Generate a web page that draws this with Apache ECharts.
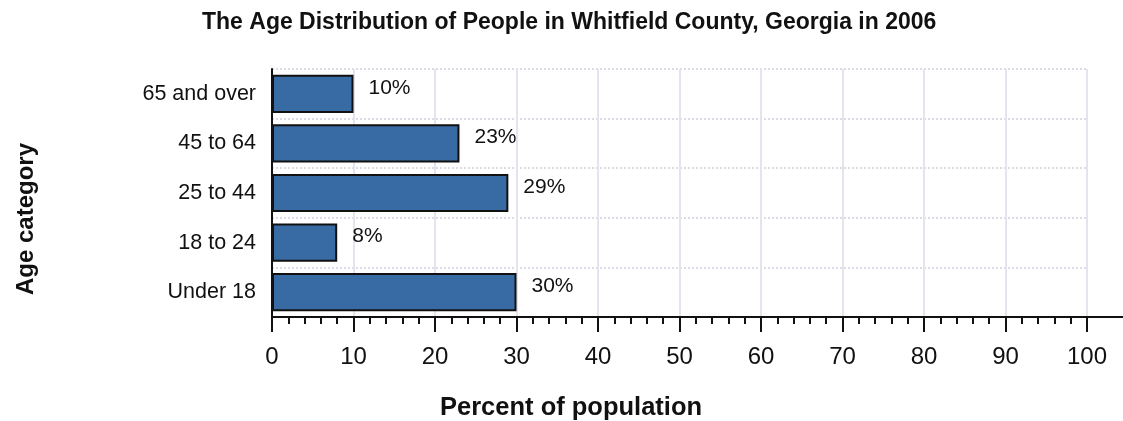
<!DOCTYPE html>
<html>
<head>
<meta charset="utf-8">
<script src="https://cdn.jsdelivr.net/npm/echarts@6/dist/echarts.min.js"></script>
<style>
  html, body { margin: 0; padding: 0; background: #ffffff; }
  #chart { width: 1123px; height: 421px; }
</style>
</head>
<body>
<div id="chart"></div>
<script>
// Age groups, listed bottom to top as they appear on the vertical axis
const ageCategories = ['Under 18', '18 to 24', '25 to 44', '45 to 64', '65 and over'];
// Share of the county population in each group (%)
const percentValues = [30, 8, 29, 23, 10];
// Percent scale ticks
const xMin = 0;
const xMax = 100;
const xStep = 10;

const FONT = '"Liberation Sans", Arial, Helvetica, sans-serif';

const chart = echarts.init(document.getElementById('chart'), null, { renderer: 'canvas' });

const option = {
  backgroundColor: '#ffffff',
  animation: false,
  title: [
    {
      text: 'The Age Distribution of People in Whitfield County, Georgia in 2006',
      left: 197,
      top: 6,
      textStyle: { fontFamily: FONT, fontSize: 23, fontWeight: 'bold', color: '#111111' }
    },
    {
      text: 'Percent of population',
      left: 435,
      top: 390,
      textStyle: { fontFamily: FONT, fontSize: 25.5, fontWeight: 'bold', color: '#111111' }
    }
  ],
  grid: { left: 272, right: 36, top: 69, bottom: 104, containLabel: false },
  xAxis: {
    type: 'value',
    min: xMin,
    max: xMax,
    interval: xStep,
    axisLine: { show: true, lineStyle: { color: '#111111', width: 2 } },
    axisTick: { show: true, length: 15, lineStyle: { color: '#111111', width: 2 } },
    minorTick: { show: true, splitNumber: 5, length: 7, lineStyle: { color: '#111111', width: 2 } },
    axisLabel: { margin: 28, fontFamily: FONT, fontSize: 24, color: '#111111' },
    splitLine: { show: true, lineStyle: { color: '#e4e4ef', width: 2, type: 'solid' } },
    minorSplitLine: { show: false }
  },
  yAxis: {
    type: 'category',
    data: ageCategories,
    axisLine: { show: true, lineStyle: { color: '#111111', width: 2 } },
    axisTick: { show: false },
    axisLabel: { margin: 16, fontFamily: FONT, fontSize: 21.5, color: '#111111' },
    splitLine: { show: true, lineStyle: { color: '#dcdce6', width: 2, type: [2, 2] } }
  },
  series: [
    {
      type: 'bar',
      data: percentValues,
      barCategoryGap: '23%',
      itemStyle: { color: '#386aa3', borderColor: '#111111', borderWidth: 2 },
      label: {
        show: true,
        position: 'right',
        distance: 15,
        offset: [0, -6],
        formatter: p => p.value + '%',
        fontFamily: FONT,
        fontSize: 21,
        color: '#111111'
      },
      z: 3
    }
  ],
  graphic: [
    {
      type: 'text',
      x: 26,
      y: 219,
      rotation: Math.PI / 2,
      style: {
        text: 'Age category',
        font: 'bold 24px ' + FONT,
        fill: '#111111',
        textAlign: 'center',
        textVerticalAlign: 'middle'
      }
    }
  ]
};

chart.setOption(option);

// Carry the baseline on past the last tick to the page edge
const rect = chart.getModel().getComponent('grid', 0).coordinateSystem.getRect();
const baseY = rect.y + rect.height;
chart.setOption({
  graphic: [
    option.graphic[0],
    {
      type: 'line',
      shape: { x1: rect.x + rect.width, y1: baseY, x2: 1123, y2: baseY },
      style: { stroke: '#111111', lineWidth: 2 },
      z: 10
    }
  ]
});
</script>
</body>
</html>
